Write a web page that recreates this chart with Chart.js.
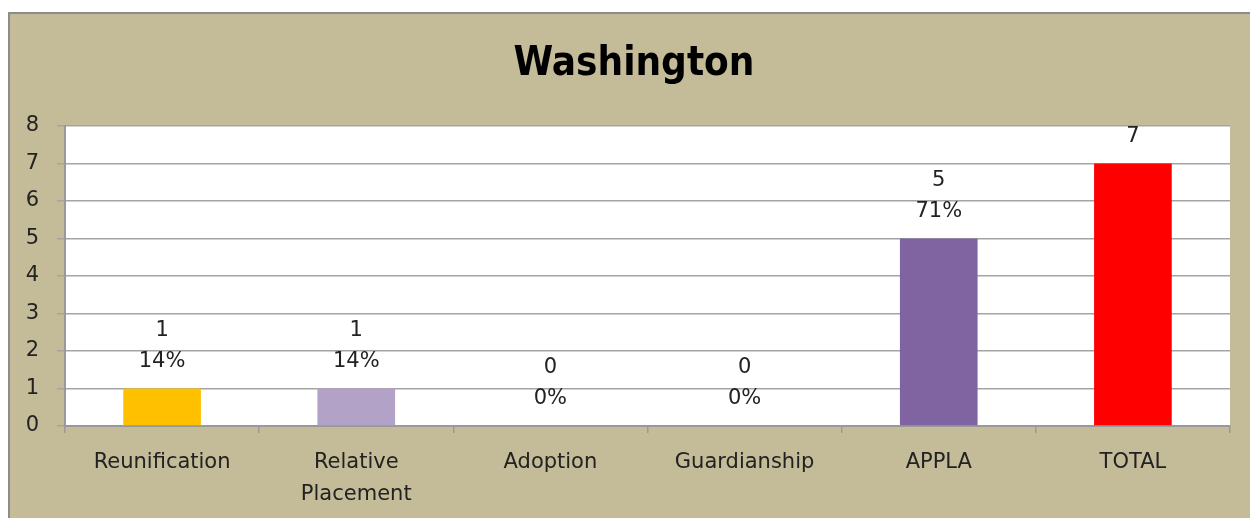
<!DOCTYPE html>
<html>
<head>
<meta charset="utf-8">
<script src="https://cdn.jsdelivr.net/npm/chart.js@4/dist/chart.umd.min.js"></script>
<style>
  html, body { margin: 0; padding: 0; background: #ffffff; overflow: hidden; width: 1250px; height: 518px; }
  #wrap { position: absolute; left: 8px; top: 12px; width: 1260px; height: 520px; box-sizing: border-box;
          border: 2px solid #8c8c8c; background: #C4BC98; }
  canvas { display: block; }
</style>
</head>
<body>
<div id="wrap"><canvas id="c" width="1256" height="516"></canvas></div>
<script>
const categories = ["Reunification", ["Relative", "Placement"], "Adoption", "Guardianship", "APPLA", "TOTAL"];
const counts = [1, 1, 0, 0, 5, 7];
const percents = ["14%", "14%", "0%", "0%", "71%", null];
const barColors = ["#FFC000", "#B3A2C7", "#B3A2C7", "#B3A2C7", "#8064A2", "#FF0000"];
const chartTitle = "Washington";
const yTicks = { min: 0, max: 8, step: 1 };

const FONT = "'DejaVu Sans', Verdana, sans-serif";
const TITLE_FONT = "'DejaVu Sans Condensed', 'DejaVu Sans', sans-serif";

const plotBg = {
  id: 'plotBg',
  beforeDraw(chart) {
    const { ctx, chartArea: a } = chart;
    ctx.save();
    ctx.fillStyle = '#ffffff';
    ctx.fillRect(a.left, a.top, a.right - a.left, a.bottom - a.top);
    ctx.restore();
  }
};

// centre the title over the framed chart (the frame extends past the plot on the left)
const titleCentre = {
  id: 'titleCentre',
  afterLayout(chart) {
    if (chart.titleBlock) { chart.titleBlock.left = 28; }
  }
};

const valueLabels = {
  id: 'valueLabels',
  afterDatasetsDraw(chart) {
    const { ctx } = chart;
    const meta = chart.getDatasetMeta(0);
    ctx.save();
    ctx.font = '21px ' + FONT;
    ctx.fillStyle = '#222222';
    ctx.textAlign = 'center';
    ctx.textBaseline = 'middle';
    meta.data.forEach((el, i) => {
      const x = el.x, y = el.y;
      if (percents[i] !== null) {
        ctx.fillText(percents[i], x, y - 27);
        ctx.fillText(String(counts[i]), x, y - 58);
      } else {
        ctx.fillText(String(counts[i]), x, y - 27);
      }
    });
    ctx.restore();
  }
};

new Chart(document.getElementById('c'), {
  type: 'bar',
  data: {
    labels: categories,
    datasets: [{
      data: counts,
      backgroundColor: barColors,
      borderWidth: 0,
      barPercentage: 0.4,
      categoryPercentage: 1.0
    }]
  },
  options: {
    responsive: false,
    animation: false,
    layout: { padding: { left: 0, right: 36, top: 0, bottom: 0 } },
    plugins: {
      legend: { display: false },
      tooltip: { enabled: false },
      title: {
        display: true,
        text: chartTitle,
        color: '#000000',
        font: { family: TITLE_FONT, size: 40, weight: 'bold', lineHeight: 1.2 },
        padding: { top: 27, bottom: 37 }
      }
    },
    scales: {
      x: {
        grid: { drawOnChartArea: false, drawTicks: true, tickLength: 7, color: '#9a9a9a', lineWidth: 1.5 },
        border: { display: true, color: '#999999', width: 2 },
        ticks: { color: '#222222', font: { family: FONT, size: 21, lineHeight: 1.5 }, padding: 14, maxRotation: 0, autoSkip: false },
        afterFit(scale) { scale.height = 104; }
      },
      y: {
        min: yTicks.min,
        max: yTicks.max,
        grid: { color: '#a4a4a4', lineWidth: 1.5, tickLength: 8, drawTicks: true },
        border: { display: true, color: '#999999', width: 2 },
        ticks: { stepSize: yTicks.step, color: '#222222', font: { family: FONT, size: 21 }, padding: 18 },
        afterFit(scale) { scale.width = 55; }
      }
    }
  },
  plugins: [plotBg, titleCentre, valueLabels]
});
</script>
</body>
</html>
